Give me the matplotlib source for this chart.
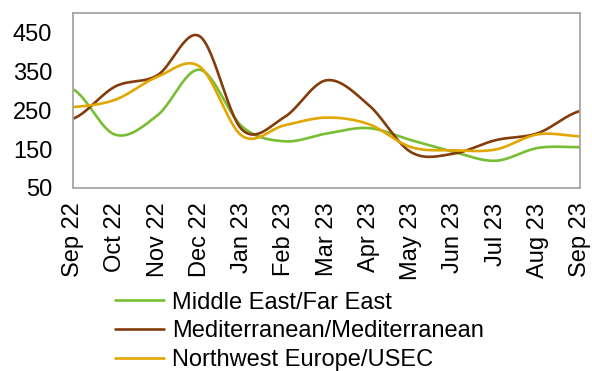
import numpy as np
import matplotlib.pyplot as plt

plt.rcParams['font.family'] = ['Liberation Sans', 'DejaVu Sans']

months = ['Sep 22', 'Oct 22', 'Nov 22', 'Dec 22', 'Jan 23', 'Feb 23', 'Mar 23',
          'Apr 23', 'May 23', 'Jun 23', 'Jul 23', 'Aug 23', 'Sep 23']
me_fe = [304, 187, 237, 354, 208, 170, 190, 204, 173, 143, 120, 153, 155]
med_med = [228, 311, 340, 440, 200, 232, 327, 263, 142, 138, 173, 191, 248]
nwe_usec = [258, 277, 336, 362, 184, 211, 231, 214, 155, 147, 149, 188, 183]

series = [
    ('Middle East/Far East', me_fe, '#77BE34'),
    ('Mediterranean/Mediterranean', med_med, '#843C0C'),
    ('Northwest Europe/USEC', nwe_usec, '#E2A600'),
]


def smooth(y, n=30):
    # Catmull-Rom curve through the monthly points (Excel-style smoothed line)
    y = np.asarray(y, dtype=float)
    p = np.concatenate([[y[0]], y, [y[-1]]])
    xs, ys = [], []
    for i in range(len(y) - 1):
        p0, p1, p2, p3 = p[i], p[i + 1], p[i + 2], p[i + 3]
        t = np.linspace(0, 1, n, endpoint=False)
        seg = 0.5 * ((2 * p1) + (-p0 + p2) * t + (2 * p0 - 5 * p1 + 4 * p2 - p3) * t ** 2
                     + (-p0 + 3 * p1 - 3 * p2 + p3) * t ** 3)
        xs.append(i + t)
        ys.append(seg)
    xs.append([len(y) - 1])
    ys.append([y[-1]])
    return np.concatenate(xs), np.concatenate(ys)


fig = plt.figure(figsize=(5.92, 3.71), dpi=100)
ax = fig.add_axes([0.1233, 0.4933, 0.8567, 0.4717])

for name, vals, col in series:
    xs, ys = smooth(vals)
    ax.plot(xs, ys, color=col, lw=1.9, label=name, solid_capstyle='round')

ax.set_xlim(0, len(months) - 1)
ax.set_ylim(50, 500)
ax.set_yticks([50, 150, 250, 350, 450])
ax.set_xticks(range(len(months)))
ax.set_xticklabels(months, rotation=90)
ax.tick_params(length=0, labelsize=17)
ax.tick_params(axis='x', pad=10.5)
ax.tick_params(axis='y', pad=15)
for s in ax.spines.values():
    s.set_color('#A6A6A6')
    s.set_linewidth(1.3)

fig.legend(loc='upper left', bbox_to_anchor=(0.194, 0.214), frameon=False,
           fontsize=17, handlelength=2.1, handletextpad=0.33, labelspacing=0.28,
           borderpad=0, borderaxespad=0)

fig.savefig('out.png', dpi=100)
